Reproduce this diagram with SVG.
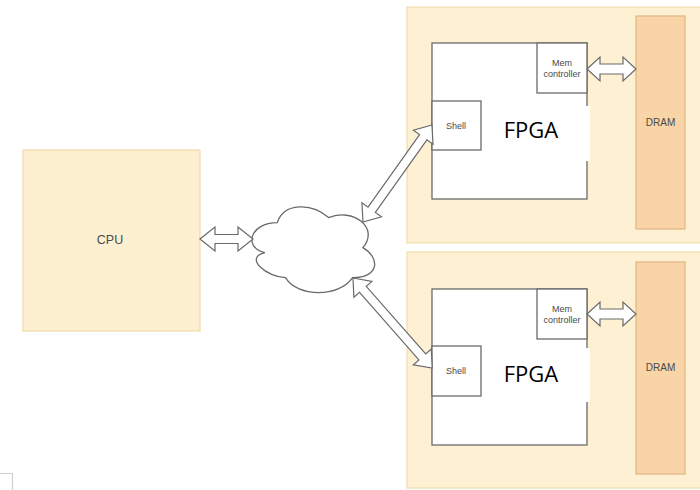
<svg xmlns="http://www.w3.org/2000/svg" width="700" height="490" viewBox="0 0 700 490">
  <style>
    .panel { fill: #fdf0d3; stroke: #f2dcae; stroke-width: 1.2; }
    .cpu { fill: #fdf0d1; stroke: #f0d9a8; stroke-width: 1.2; }
    .dram { fill: #f8d4a7; stroke: #e3b583; stroke-width: 1.2; }
    .box { fill: #ffffff; stroke: #6a6a6a; stroke-width: 1.3; }
    .lbl { font-family: "Liberation Sans", Arial, sans-serif; fill: #4a4a4a; text-anchor: middle; }
    .big { font-family: "Open Sans", "Noto Sans", sans-serif; font-size: 22px; fill: #000000; text-anchor: middle; }
    .arrow { fill: #ffffff; stroke: #6a6a6a; stroke-width: 1.2; stroke-linejoin: miter; }
    .cloud { fill: #ffffff; stroke: #6a6a6a; stroke-width: 1.3; }
  </style>

  <g id="cpu">
    <rect class="cpu" x="23" y="150" width="177" height="181"/>
    <text class="lbl" x="110" y="244" font-size="12.5">CPU</text>
  </g>

  <g id="network">
    <path class="cloud" transform="translate(243,197.6) scale(137,100)" vector-effect="non-scaling-stroke"
      d="M0.25,0.25 C0.05,0.25 0,0.5 0.16,0.55 C0,0.6 0.18,0.8 0.31,0.8 C0.4,1 0.7,1 0.8,0.8 C1,0.8 1,0.6 0.875,0.5 C1,0.3 0.8,0.1 0.625,0.2 C0.5,0.05 0.3,0.05 0.25,0.25 Z"/>
  </g>

  <g id="fpga-node-1">
    <rect class="panel" x="407" y="7" width="300" height="236"/>
    <g id="fpga-1">
      <rect class="box" x="432" y="43" width="155" height="156"/>
    </g>
    <g id="shell-1">
      <rect class="box" x="432" y="101" width="49" height="49"/>
      <text class="lbl" x="456" y="129" font-size="9">Shell</text>
    </g>
    <g id="memctrl-1">
      <rect class="box" x="537" y="43" width="50" height="50"/>
      <text class="lbl" x="562" y="66" font-size="9">Mem</text>
      <text class="lbl" x="562" y="77" font-size="9">controller</text>
    </g>
    <rect x="490" y="106" width="100" height="55" fill="#ffffff"/>
    <text class="big" x="531" y="138">FPGA</text>
    <g id="dram-1">
      <rect class="dram" x="636" y="16" width="49" height="213"/>
      <text class="lbl" x="660.5" y="126" font-size="10">DRAM</text>
    </g>
  </g>

  <g id="fpga-node-2">
    <rect class="panel" x="407" y="252" width="300" height="236"/>
    <g id="fpga-2">
      <rect class="box" x="432" y="289" width="155" height="156"/>
    </g>
    <g id="shell-2">
      <rect class="box" x="432" y="346" width="49" height="50"/>
      <text class="lbl" x="456" y="374" font-size="9">Shell</text>
    </g>
    <g id="memctrl-2">
      <rect class="box" x="537" y="289" width="50" height="50"/>
      <text class="lbl" x="562" y="312" font-size="9">Mem</text>
      <text class="lbl" x="562" y="323" font-size="9">controller</text>
    </g>
    <rect x="490" y="348" width="100" height="54" fill="#ffffff"/>
    <text class="big" x="531" y="382">FPGA</text>
    <g id="dram-2">
      <rect class="dram" x="636" y="262" width="49" height="212"/>
      <text class="lbl" x="660.5" y="371" font-size="10">DRAM</text>
    </g>
  </g>

  <g id="connectors">
    <polygon class="arrow" points="200,239 215,227 215,234.5 238,234.5 238,227 253,239 238,251 238,243.5 215,243.5 215,251"/>
    <polygon class="arrow" points="587,69 600,57 600,64 623,64 623,57 636,69 623,81 623,74 600,74 600,81"/>
    <polygon class="arrow" points="587,314 600,302 600,309 623,309 623,302 636,314 623,326 623,319 600,319 600,326"/>
    <polygon class="arrow" transform="translate(363,222) rotate(-54.6)"
      points="0,0 15,-12 15,-4.5 104,-4.5 104,-12 119,0 104,12 104,4.5 15,4.5 15,12"/>
    <polygon class="arrow" transform="translate(353,278) rotate(48.7)"
      points="0,0 15,-12 15,-4.5 105,-4.5 105,-12 120,0 105,12 105,4.5 15,4.5 15,12"/>
  </g>

  <path d="M0,473.5 H12.5 V490" fill="none" stroke="#cfcfcf" stroke-width="1.2"/>
</svg>
